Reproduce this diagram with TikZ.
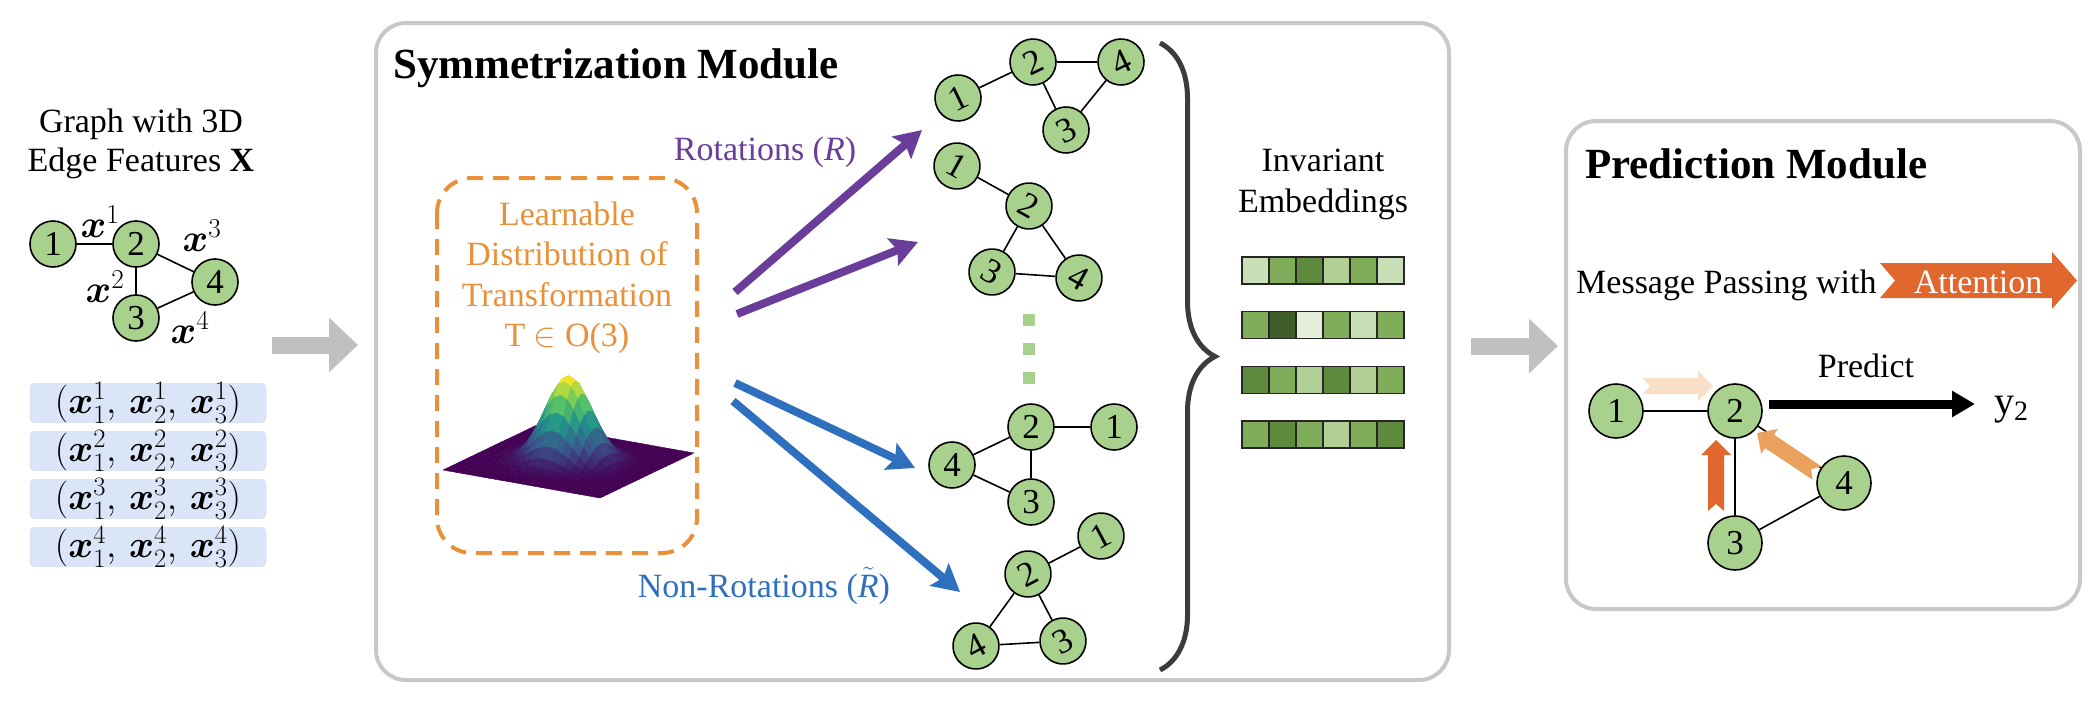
\RequirePackage{fix-cm}
\documentclass[tikz,border=0pt]{standalone}
\usepackage{amsmath,bm}
\usepackage{fontspec}
\setmainfont{Liberation Serif}
\usetikzlibrary{arrows.meta, positioning, calc, decorations.pathreplacing}

\definecolor{nodegreen}{HTML}{A9D18E}
\definecolor{tuplebg}{HTML}{DAE5F7}
\definecolor{rotpurple}{HTML}{6A3D9A}
\definecolor{nonrotblue}{HTML}{2E70BE}
\definecolor{distorange}{HTML}{E8913A}
\definecolor{attnred}{HTML}{E0672D}
\definecolor{attnmid}{HTML}{EBA15E}
\definecolor{attnlight}{HTML}{F9DEC8}
\definecolor{panelgray}{HTML}{C8C8C8}
\definecolor{flowgray}{HTML}{C0C0C0}
\definecolor{bracegray}{HTML}{3C3C3C}
\definecolor{emb1}{HTML}{E4EFDA}
\definecolor{emb2}{HTML}{C9DFB8}
\definecolor{emb3}{HTML}{B0CF95}
\definecolor{emb4}{HTML}{7FAD5A}
\definecolor{emb5}{HTML}{5E8A3E}
\definecolor{emb6}{HTML}{3E5E2A}
\definecolor{vir0}{HTML}{440154}
\definecolor{vir1}{HTML}{3B528B}
\definecolor{vir2}{HTML}{21918C}
\definecolor{vir3}{HTML}{5EC962}
\definecolor{vir4}{HTML}{FDE725}

% point on the Gaussian surface
\newcommand{\surfpt}[2]{({443+157*#1+94*#2},{470+28*#1-45*#2-86*gh(#1,#2)})}
% small attention arrow: tail, angle, length, colour
\newcommand{\attnarrow}[4]{%
  \fill[#4, shift={#1}, rotate=#2] (0,-8) -- ({#3-15},-8) -- ({#3-15},-15) -- (#3,0)
    -- ({#3-15},15) -- ({#3-15},8) -- (0,8) -- (7,0) -- cycle;}

\begin{document}
\begin{tikzpicture}[
    x=1pt, y=-1pt,
    font=\fontsize{34}{39}\selectfont,
    gnode/.style={circle, draw=black, line width=1.6pt, fill=nodegreen, minimum size=46pt, inner sep=0pt, font=\fontsize{35}{35}\selectfont},
    pnode/.style={gnode, minimum size=54pt},
    gedge/.style={line width=1.6pt},
    panel/.style={draw=panelgray, line width=4pt, rounded corners=30pt},
    tuple/.style={fill=tuplebg, rounded corners=5pt, minimum width=237pt, minimum height=38pt, inner sep=0pt, font=\fontsize{38}{38}\selectfont},
    flow/.style={line width=17pt, draw=flowgray, -{Triangle[length=29pt,width=53pt]}},
    rotarrow/.style={line width=8pt, draw=rotpurple, -{Stealth[length=27pt,width=29pt,inset=5pt]}},
    nonrotarrow/.style={rotarrow, draw=nonrotblue},
    embcell/.style={draw=black!85, line width=1.3pt, minimum size=27pt, inner sep=0pt},
    dotsq/.style={fill=nodegreen, minimum size=12pt, inner sep=0pt},
    title/.style={anchor=base west, inner sep=0pt, font=\fontsize{43}{43}\selectfont\bfseries},
    elabel/.style={inner sep=0pt, font=\fontsize{39}{39}\selectfont},
    declare function={gh(\u,\v)=exp(-((\u-0.5)^2+(\v-0.5)^2)/0.0338);}
]
\useasboundingbox (0,0) rectangle (2096,704);

% Input graph
\node[align=center] (intext) at (141,143.5) {Graph with 3D\\Edge Features \textbf{X}};
\node[gnode] (l1) at (53,244) {1};
\node[gnode] (l2) at (136,244) {2};
\node[gnode] (l3) at (136,318) {3};
\node[gnode] (l4) at (215,282) {4};
\draw[gedge] (l1) -- (l2) (l2) -- (l3) (l2) -- (l4) (l3) -- (l4);
\node[elabel] (lx1) at (100,222) {$\bm{x}^1$};
\node[elabel] (lx2) at (105,287) {$\bm{x}^2$};
\node[elabel] (lx3) at (202,236) {$\bm{x}^3$};
\node[elabel] (lx4) at (190,328) {$\bm{x}^4$};

% Edge feature tuples
\foreach \k/\y in {1/403,2/451,3/499,4/547}
  \node[tuple] (t\k) at (148,\y) {$(\bm{x}^{\k}_1,\, \bm{x}^{\k}_2,\, \bm{x}^{\k}_3)$};

% Flow between panels
\coordinate (g1s) at (272,345); \coordinate (g1e) at (358,345);
\coordinate (g2s) at (1471,346); \coordinate (g2e) at (1558,346);
\draw[flow] (g1s) -- (g1e);
\draw[flow] (g2s) -- (g2e);

% Symmetrization Module
\draw[panel] (376,23) rectangle (1449,680);
\node[title] (symtitle) at (393,78) {Symmetrization Module};

\draw[distorange, line width=4pt, dash pattern=on 16pt off 10pt, rounded corners=35pt] (437,178) rectangle (697,553);
\node[text=distorange, align=center, font=\fontsize{34}{40.5}\selectfont] (distlabel) at (567,278) {Learnable\\Distribution of\\Transformation\\T $\in$ O(3)};

% Gaussian surface
\foreach \j in {23,22,...,0}{
  \foreach \i in {0,...,23}{
    \pgfmathsetmacro\ua{\i/24}
    \pgfmathsetmacro\ub{(\i+1)/24}
    \pgfmathsetmacro\va{\j/24}
    \pgfmathsetmacro\vb{(\j+1)/24}
    \pgfmathsetmacro\hh{gh((\i+0.5)/24,(\j+0.5)/24)}
    \pgfmathtruncatemacro\seg{min(3,floor(4*\hh))}
    \pgfmathtruncatemacro\nxt{\seg+1}
    \pgfmathsetmacro\pct{100*(4*\hh-\seg)}
    \colorlet{surfc}{vir\nxt!\pct!vir\seg}
    \filldraw[fill=surfc, draw=surfc, line width=0.4pt]
      \surfpt{\ua}{\va} -- \surfpt{\ub}{\va} -- \surfpt{\ub}{\vb} -- \surfpt{\ua}{\vb} -- cycle;
  }
}

% Sampled transformations
\coordinate (ru1) at (735,292); \coordinate (ru2) at (922,130);
\coordinate (rl1) at (737,314); \coordinate (rl2) at (918,242);
\coordinate (nu1) at (735,383); \coordinate (nu2) at (915,468);
\coordinate (nl1) at (733,401); \coordinate (nl2) at (960,592);
\draw[rotarrow] (ru1) -- (ru2);
\draw[rotarrow] (rl1) -- (rl2);
\draw[nonrotarrow] (nu1) -- (nu2);
\draw[nonrotarrow] (nl1) -- (nl2);
\node[text=rotpurple, anchor=base, inner sep=0pt] (rotlabel) at (765,160) {Rotations (\textit{R})};
\node[text=nonrotblue, anchor=base, inner sep=0pt] (nonrotlabel) at (764,597) {Non-Rotations ($\tilde{\mbox{\textit{R}}}$)};

% Transformed graphs
\node[gnode, rotate=26] (a1) at (958,98) {1};
\node[gnode, rotate=26] (a2) at (1033,62) {2};
\node[gnode, rotate=26] (a3) at (1066,130) {3};
\node[gnode, rotate=26] (a4) at (1121,62) {4};
\draw[gedge] (a1) -- (a2) (a2) -- (a4) (a2) -- (a3) (a3) -- (a4);

\node[gnode, rotate=-29] (b1) at (957,166) {1};
\node[gnode, rotate=-29] (b2) at (1029,206) {2};
\node[gnode, rotate=-29] (b3) at (992,272) {3};
\node[gnode, rotate=-29] (b4) at (1079,278) {4};
\draw[gedge] (b1) -- (b2) (b2) -- (b3) (b2) -- (b4) (b3) -- (b4);

\foreach \y [count=\k] in {320,349,378}
  \node[dotsq] (dot\k) at (1029,\y) {};

\node[gnode] (c1) at (1114,427) {1};
\node[gnode] (c2) at (1031,427) {2};
\node[gnode] (c3) at (1031,502) {3};
\node[gnode] (c4) at (952,465) {4};
\draw[gedge] (c2) -- (c1) (c2) -- (c4) (c2) -- (c3) (c4) -- (c3);

\node[gnode, rotate=28] (d1) at (1101,536) {1};
\node[gnode, rotate=28] (d2) at (1028,574) {2};
\node[gnode, rotate=28] (d3) at (1063,641) {3};
\node[gnode, rotate=28] (d4) at (976,646) {4};
\draw[gedge] (d2) -- (d1) (d2) -- (d4) (d2) -- (d3) (d4) -- (d3);

\draw[bracegray, line width=5pt, decorate, decoration={brace, amplitude=55pt}] (1160,43) -- (1160,670);

% Invariant embeddings
\node[align=center, font=\fontsize{34}{41}\selectfont] (embtext) at (1323,184.5) {Invariant\\Embeddings};
\foreach \cols [count=\r from 0] in {{2,4,5,3,4,2},{4,6,1,4,2,4},{5,4,3,5,3,4},{4,5,4,3,4,5}}{
  \foreach \c [count=\k from 0] in \cols
    \node[embcell, fill=emb\c] (e\r\k) at ({1255.5+27*\k},{270.5+54.7*\r}) {};
}

% Prediction Module
\draw[panel] (1566,121) rectangle (2080,609);
\node[title] (predtitle) at (1585,178) {Prediction Module};
\node[anchor=base west, inner sep=0pt] (msgtext) at (1576,293) {Message Passing with};
\fill[attnred] (1880,263) -- (2052,263) -- (2052,252) -- (2077,280.5) -- (2052,309) -- (2052,298) -- (1880,298) -- (1895,280.5) -- cycle;
\node[text=white, anchor=base, inner sep=0pt] (attn) at (1978,293) {Attention};

\node[pnode] (p1) at (1616,411) {1};
\node[pnode] (p2) at (1735,411) {2};
\node[pnode] (p3) at (1735,543) {3};
\node[pnode] (p4) at (1844,483) {4};
\draw[gedge] (p1) -- (p2) (p2) -- (p3) (p2) -- (p4) (p3) -- (p4);

\attnarrow{(1643,386)}{0}{70}{attnlight}
\attnarrow{(1716,511)}{90}{71}{attnred}
\attnarrow{(1817,473)}{146.3}{72}{attnmid}

\coordinate (pa) at (1769,404); \coordinate (pb) at (1975,404);
\draw[line width=9pt, -{Triangle[length=23pt,width=25pt]}] (pa) -- (pb);
\node[anchor=base, inner sep=0pt] (predtext) at (1866,377) {Predict};
\node[anchor=base west, inner sep=0pt, font=\fontsize{40}{40}\selectfont] (yout) at (1994,414) {y\textsubscript{2}};

\end{tikzpicture}
\end{document}
